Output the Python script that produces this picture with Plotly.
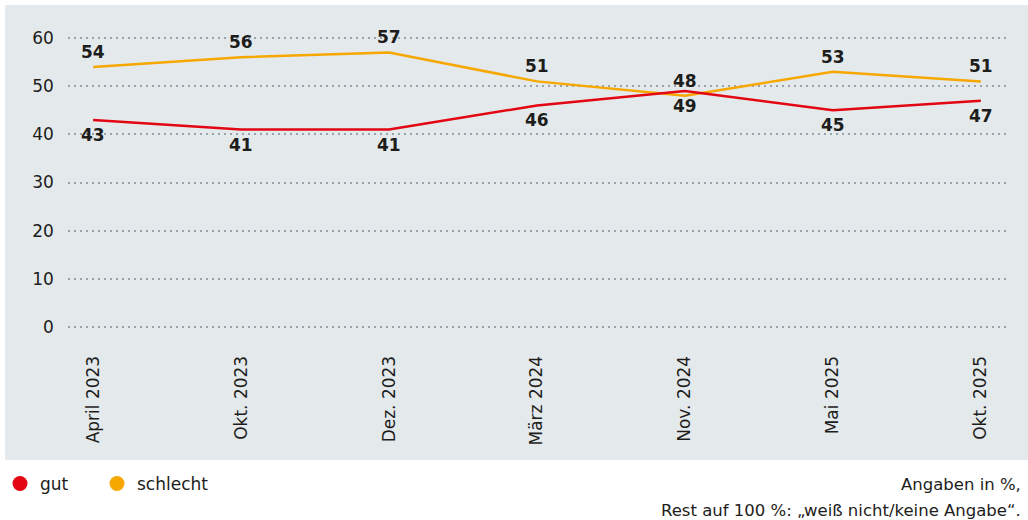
import plotly.graph_objects as go

# Umfragezeitpunkte
wellen = ["April 2023", "Okt. 2023", "Dez. 2023", "März 2024", "Nov. 2024", "Mai 2025", "Okt. 2025"]
gut = [43, 41, 41, 46, 49, 45, 47]
schlecht = [54, 56, 57, 51, 48, 53, 51]

ROT = "#e30613"
GELB = "#f6a800"
HINTERGRUND = "#e4e9ec"
TEXT = "#1d1d1b"
FONT = "DejaVu Sans, sans-serif"

x = list(range(len(wellen)))

fig = go.Figure()

fig.add_trace(go.Scatter(x=x, y=schlecht, mode="lines", name="schlecht",
                         line=dict(color=GELB, width=2.5), showlegend=False))
fig.add_trace(go.Scatter(x=x, y=gut, mode="lines", name="gut",
                         line=dict(color=ROT, width=2.5), showlegend=False))

# Werte-Beschriftungen: schlecht oberhalb, gut unterhalb
for werte, shift in [(schlecht, 15), (gut, -15)]:
    for xi, v in zip(x, werte):
        fig.add_annotation(x=xi, y=v, text=f"<b>{v}</b>", showarrow=False,
                           yshift=shift, yanchor="middle",
                           font=dict(size=17, color=TEXT, family=FONT))

# Legenden-Einträge als Punkte
fig.add_trace(go.Scatter(x=[None], y=[None], mode="markers", name="gut",
                         marker=dict(color=ROT, size=15), legendwidth=52))
fig.add_trace(go.Scatter(x=[None], y=[None], mode="markers", name="schlecht",
                         marker=dict(color=GELB, size=15)))

# grauer Hintergrund hinter dem Diagramm
fig.add_shape(type="rect", xref="paper", yref="paper",
              x0=0.005, x1=1.0, y0=0.1154, y1=0.9904,
              fillcolor=HINTERGRUND, line_width=0, layer="below")

fig.add_annotation(xref="paper", yref="paper", x=0.995, y=0.0692,
                   text="Angaben in %,", showarrow=False,
                   xanchor="right", yanchor="middle",
                   font=dict(size=16.5, color=TEXT, family=FONT))
fig.add_annotation(xref="paper", yref="paper", x=0.995, y=0.0192,
                   text="Rest auf 100 %: „weiß nicht/keine Angabe“.", showarrow=False,
                   xanchor="right", yanchor="middle",
                   font=dict(size=16.5, color=TEXT, family=FONT))

fig.update_layout(
    width=1028, height=520,
    margin=dict(l=0, r=0, t=0, b=0),
    paper_bgcolor="white", plot_bgcolor="rgba(0,0,0,0)",
    font=dict(family=FONT, color=TEXT, size=16),
    legend=dict(orientation="h", x=0.0, y=0.0692, xanchor="left", yanchor="middle",
                font=dict(size=17, color=TEXT, family=FONT),
                itemwidth=30, bgcolor="rgba(0,0,0,0)"),
    xaxis=dict(domain=[0.0661, 0.9786], range=[-0.17, 6.17], tickvals=x, ticktext=wellen,
               tickangle=-90, showgrid=False, zeroline=False, showline=False, ticks="",
               ticklabelstandoff=22, tickfont=dict(size=17, color=TEXT), automargin=False),
    yaxis=dict(domain=[0.3665, 0.9315], range=[-0.5, 60.5], tickvals=[0, 10, 20, 30, 40, 50, 60],
               showgrid=True, gridcolor="#9aa3a9", griddash="2px,4px", gridwidth=2,
               zeroline=False, showline=False, ticks="", automargin=False,
               ticklabelstandoff=13, tickfont=dict(size=17, color=TEXT)),
)

fig.write_html("out.html", config={"displayModeBar": False},
               post_script="document.body.style.margin='0';")
